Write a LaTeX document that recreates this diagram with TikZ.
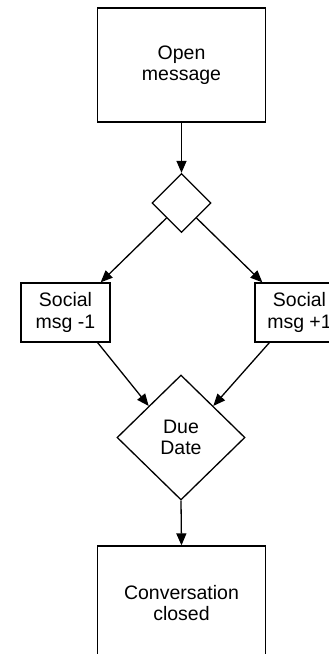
\documentclass[tikz,border=0pt]{standalone}
\usepackage{fontspec}
\setmainfont{Liberation Sans}
\usetikzlibrary{shapes.geometric,arrows.meta,calc}
\begin{document}
\begin{tikzpicture}[x=1pt,y=-1pt,
  every node/.style={font=\fontsize{19.5pt}{21.5pt}\selectfont, align=center, inner sep=0pt, line width=1.3pt, draw=black},
  bigbox/.style={rectangle, minimum width=168pt, minimum height=114pt},
  smallbox/.style={rectangle, minimum width=89pt, minimum height=59pt},
  decision/.style={diamond, aspect=1},
  flow/.style={line width=1.3pt, -{Triangle[length=12pt,width=10pt]}}]
\useasboundingbox (0,0) rectangle (329,654);
\clip (0,0) rectangle (329,654);
\node[bigbox] (open) at (181.5,65) {Open\\message};
\node[decision, minimum width=59pt, minimum height=59pt] (d1) at (181.5,203) {};
\node[smallbox] (s1) at (65.5,312.5) {Social\\msg -1};
\node[smallbox] (s2) at (299.5,312.5) {Social\\msg +1};
\node[decision, minimum width=128pt, minimum height=125pt] (d2) at (181,437.5) {Due\\Date};
\node[bigbox] (closed) at (181.5,603) {Conversation\\closed};
\coordinate (d1sw) at ($(d1.west)!0.5!(d1.south)$);
\coordinate (d1se) at ($(d1.east)!0.5!(d1.south)$);
\coordinate (d2nw) at ($(d2.west)!0.5!(d2.north)$);
\coordinate (d2ne) at ($(d2.east)!0.5!(d2.north)$);
\coordinate (s1in) at ($(s1.north east)+(-10,0)$);
\coordinate (s2in) at ($(s2.north west)+(8,0)$);
\coordinate (s1out) at ($(s1.south east)+(-13,0)$);
\coordinate (s2out) at ($(s2.south west)+(15,0)$);
\draw[flow] (open.south) -- (d1.north);
\draw[flow] (d1sw) -- (s1in);
\draw[flow] (d1se) -- (s2in);
\draw[flow] (s1out) -- (d2nw);
\draw[flow] (s2out) -- (d2ne);
\draw[flow] (d2.south) -- (closed.north);
\end{tikzpicture}
\end{document}
